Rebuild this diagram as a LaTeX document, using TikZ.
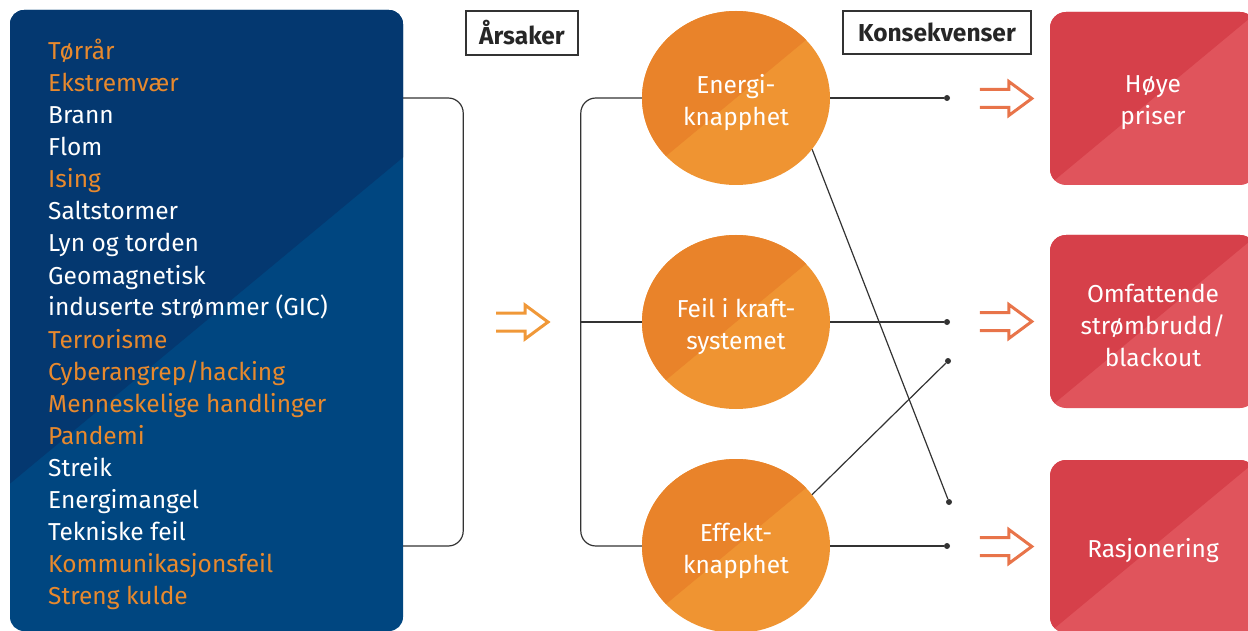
\documentclass[tikz,border=0pt]{standalone}
\usepackage{fontspec}
\setmainfont{Fira Sans}
\usetikzlibrary{shapes.geometric,calc}

\definecolor{navydark}{RGB}{4,56,112}
\definecolor{navylight}{RGB}{0,70,128}
\definecolor{hot}{RGB}{232,137,45}
\definecolor{orgdark}{RGB}{233,131,42}
\definecolor{orglight}{RGB}{239,148,50}
\definecolor{reddark}{RGB}{214,64,74}
\definecolor{redlight}{RGB}{224,84,92}
\definecolor{arrowmid}{RGB}{240,152,56}
\definecolor{arrowred}{RGB}{232,116,74}
\definecolor{linegray}{RGB}{51,51,51}

\newcommand{\bodyfont}{\fontsize{24.5}{32}\selectfont}

\tikzset{
  halves/.style 2 args={fill=#2,
    path picture={\fill[#1] ($(path picture bounding box.center)+(-600,498)$)
      -- ++(1200,-996) -- ++(-1200,0) -- cycle;}},
  causebox/.style={rectangle,rounded corners=14,inner sep=0,
    minimum width=393,minimum height=621,halves={navydark}{navylight}},
  cause/.style={anchor=base west,inner sep=0,font=\bodyfont},
  inner/.style={inner sep=0,text=white,align=center,font=\bodyfont},
  hub/.style={ellipse,inner sep=0,minimum width=188,minimum height=174,
    halves={orgdark}{orglight},label={[inner,yshift=-5]center:{#1}}},
  effect/.style={rectangle,rounded corners=16,inner sep=0,minimum width=206,
    minimum height=173,halves={reddark}{redlight},
    label={[inner,yshift=-4]center:{#1}}},
  tag/.style={draw=linegray,line width=1.2,inner sep=0,font=\bodyfont\bfseries,
    text=black!85},
  link/.style={draw=linegray,line width=1.2},
  endpt/.style={circle,fill=linegray,inner sep=0,minimum size=6},
  dblarrow/.pic={
    \draw[pic actions,line width=3] (-26,-9) -- (3,-9) -- (3,-17) -- (26,0)
      -- (3,17) -- (3,9) -- (-26,9);}
}

\begin{document}
\begin{tikzpicture}[x=1pt,y=-1pt]
  \clip (0,0) rectangle (1248,631);

  % Causes box and its list
  \node[causebox] (causes) at (206.5,320.5) {};
  \foreach \txt/\col [count=\i from 0] in {Tørrår/hot, Ekstremvær/hot,
      Brann/white, Flom/white, Ising/hot, Saltstormer/white,
      Lyn og torden/white, Geomagnetisk/white,
      {induserte strømmer (GIC)}/white, Terrorisme/hot,
      {Cyberangrep/hacking}/hot, Menneskelige handlinger/hot, Pandemi/hot,
      Streik/white, Energimangel/white, Tekniske feil/white,
      Kommunikasjonsfeil/hot, Streng kulde/hot}
    \node[cause,text=\col] (c\i) at (48,{60+32*\i}) {\txt};

  % Headings
  \node[tag,minimum width=112,minimum height=44] (arsaker) at (522,33) {Årsaker};
  \node[tag,minimum width=188,minimum height=43] (konsekv) at (937,32.5) {Konsekvenser};

  % Hubs
  \node[hub={Energi-\\knapphet}] (energi) at (736,98) {};
  \node[hub={Feil i kraft-\\systemet}] (feil) at (736,322) {};
  \node[hub={Effekt-\\knapphet}] (effekt) at (736,546) {};

  % Consequences
  \node[effect={Høye\\priser}] (priser) at (1153,98.5) {};
  \node[effect={Omfattende\\strømbrudd/\\blackout}] (blackout) at (1153,321.5) {};
  \node[effect={Rasjonering}] (rasjon) at (1153,546.5) {};

  % End points
  \node[endpt] (d1) at (947,98) {};
  \node[endpt] (d2) at (947,322) {};
  \node[endpt] (d3) at (948,361) {};
  \node[endpt] (d4) at (949,502) {};
  \node[endpt] (d5) at (947,546) {};

  % Bracket from the causes
  \draw[link,rounded corners=15] (causes.east |- energi)
    -| ($(causes.east |- effekt)+(60,0)$) -- (causes.east |- effekt);

  % Fork to the hubs
  \draw[link,rounded corners=15] (energi.west) -- ++(-61,0) |- (effekt.west);
  \draw[link,line width=2] (feil.west) -- ++(-61,0);

  % Hubs to the end points
  \draw[link] (energi.east) -- (d1);
  \draw[link] (feil.east) -- (d2);
  \draw[link] (effekt.east) -- (d5);
  \draw[link] (energi.-34) -- (d4);
  \draw[link] (effekt.34) -- (d3);

  % Arrows
  \pic[draw=arrowmid] at (522,322) {dblarrow};
  \pic[draw=arrowred] at ($(priser.west)+(-44,0)$) {dblarrow};
  \pic[draw=arrowred] at ($(blackout.west)+(-44,0)$) {dblarrow};
  \pic[draw=arrowred] at ($(rasjon.west)+(-44,0)$) {dblarrow};
\end{tikzpicture}
\end{document}
